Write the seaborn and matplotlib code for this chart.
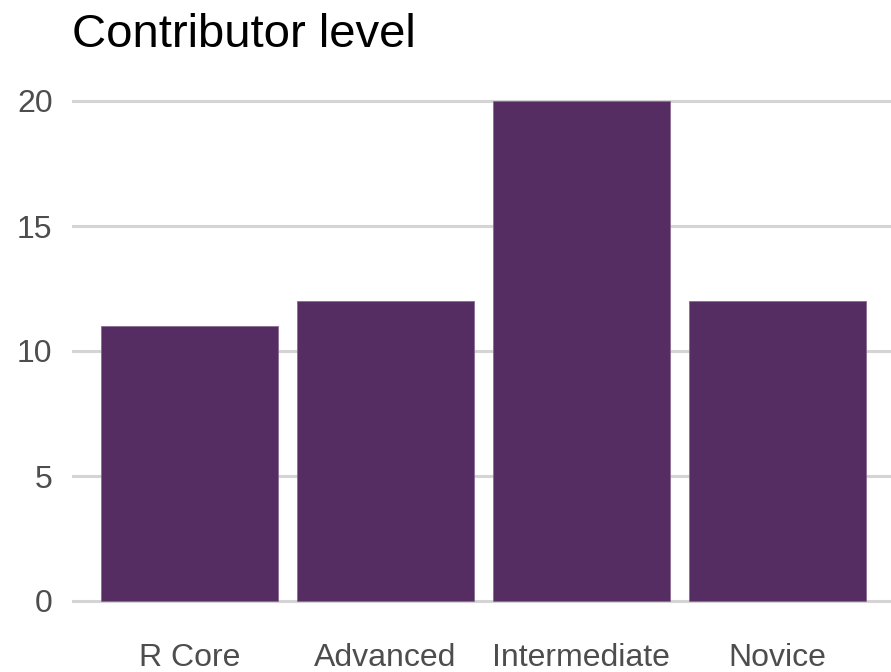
import pandas as pd
import matplotlib.pyplot as plt
import seaborn as sns

# Dados
levels = ['R Core', 'Advanced', 'Intermediate', 'Novice']
counts = [11, 12, 20, 12]
df = pd.DataFrame({'level': levels, 'n': counts})

sns.set_theme(style='white')
plt.rcParams['font.family'] = ['Liberation Sans', 'DejaVu Sans']

fig = plt.figure(figsize=(8.91, 6.72), dpi=100)
ax = fig.add_axes([72 / 891, 46 / 672, 819 / 891, 550 / 672])

sns.barplot(data=df, x='level', y='n', order=levels, color='#552d62',
            saturation=1, width=0.9, edgecolor='#8a6a92', linewidth=0.6, ax=ax)

ax.set_xlim(-0.6, 3.58)
ax.set_ylim(-1, 21)
ax.set_yticks([0, 5, 10, 15, 20])
ax.yaxis.grid(True, color='#d4d4d4', linewidth=2.2)
ax.xaxis.grid(False)
ax.set_axisbelow(True)
for s in ax.spines.values():
    s.set_visible(False)
ax.tick_params(axis='both', length=0, labelsize=23, labelcolor='#4d4d4d')
ax.tick_params(axis='y', pad=14)
ax.tick_params(axis='x', pad=12)
ax.set_xlabel('')
ax.set_ylabel('')

fig.text(72 / 891, 1 - 47 / 672, 'Contributor level', fontsize=34, color='black',
         ha='left', va='baseline')

plt.savefig('out.png', dpi=100)
